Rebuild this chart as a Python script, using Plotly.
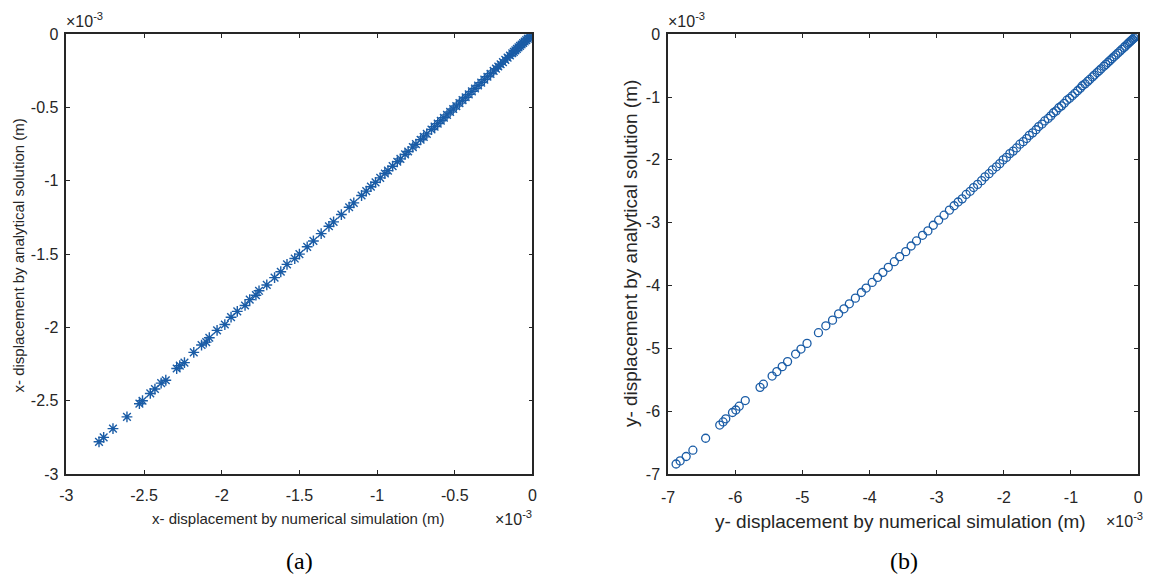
import plotly.graph_objects as go

# values in units of 1e-3 m
x_num_a = [-2.79, -2.76, -2.70, -2.61, -2.53, -2.51, -2.46, -2.43, -2.39, -2.36,
           -2.29, -2.27, -2.24, -2.18, -2.13, -2.10, -2.08, -2.03, -1.98, -1.94,
           -1.90, -1.85, -1.82, -1.78, -1.76, -1.71, -1.66, -1.62, -1.58, -1.53,
           -1.50, -1.45, -1.41, -1.36, -1.31, -1.28, -1.23, -1.18, -1.15, -1.10,
           -1.07, -1.04, -1.01, -0.98, -0.95, -0.93, -0.90, -0.87, -0.85, -0.82,
           -0.80, -0.77, -0.75, -0.72, -0.70, -0.68, -0.65, -0.63, -0.61, -0.59,
           -0.57, -0.55, -0.53, -0.51, -0.49, -0.47, -0.45, -0.43, -0.41, -0.39,
           -0.37, -0.35, -0.33, -0.31, -0.29, -0.27, -0.25, -0.235, -0.22, -0.205,
           -0.19, -0.175, -0.16, -0.145, -0.13, -0.12, -0.11, -0.10, -0.09, -0.08,
           -0.07, -0.06, -0.05, -0.04, -0.03, -0.02, -0.01, 0.0]
x_ana_a = [-2.78, -2.75, -2.69, -2.61, -2.52, -2.50, -2.45, -2.42, -2.38, -2.36,
           -2.28, -2.26, -2.24, -2.17, -2.12, -2.10, -2.07, -2.02, -1.98, -1.93,
           -1.89, -1.85, -1.81, -1.78, -1.75, -1.71, -1.66, -1.62, -1.57, -1.53,
           -1.50, -1.45, -1.41, -1.36, -1.31, -1.28, -1.23, -1.18, -1.15, -1.10,
           -1.07, -1.04, -1.01, -0.98, -0.95, -0.93, -0.90, -0.87, -0.85, -0.82,
           -0.80, -0.77, -0.75, -0.72, -0.70, -0.68, -0.65, -0.63, -0.61, -0.59,
           -0.57, -0.55, -0.53, -0.51, -0.49, -0.47, -0.45, -0.43, -0.41, -0.39,
           -0.37, -0.35, -0.33, -0.31, -0.29, -0.27, -0.25, -0.235, -0.22, -0.205,
           -0.19, -0.175, -0.16, -0.145, -0.13, -0.12, -0.11, -0.10, -0.09, -0.08,
           -0.07, -0.06, -0.05, -0.04, -0.03, -0.02, -0.01, 0.0]

y_num_b = [-6.88, -6.82, -6.73, -6.63, -6.44, -6.23, -6.18, -6.14, -6.04, -5.99,
           -5.94, -5.85, -5.63, -5.58, -5.45, -5.38, -5.30, -5.22, -5.10, -5.02,
           -4.93, -4.76, -4.65, -4.55, -4.46, -4.38, -4.30, -4.21, -4.12, -4.05,
           -3.96, -3.88, -3.80, -3.72, -3.63, -3.55, -3.46, -3.38, -3.30, -3.21,
           -3.13, -3.05, -2.97, -2.89, -2.81, -2.74, -2.68, -2.62, -2.56, -2.50,
           -2.45, -2.39, -2.33, -2.28, -2.22, -2.17, -2.11, -2.06, -2.01, -1.96,
           -1.91, -1.86, -1.81, -1.76, -1.71, -1.66, -1.62, -1.57, -1.52, -1.48,
           -1.43, -1.39, -1.34, -1.30, -1.26, -1.22, -1.18, -1.14, -1.10, -1.06,
           -1.02, -0.98, -0.94, -0.90, -0.86, -0.83, -0.79, -0.75, -0.72, -0.68,
           -0.65, -0.61, -0.58, -0.55, -0.51, -0.48, -0.45, -0.42, -0.39, -0.36,
           -0.33, -0.30, -0.27, -0.24, -0.21, -0.19, -0.16, -0.14, -0.12, -0.10,
           -0.08, -0.06, -0.04, -0.02, 0.0]
y_ana_b = [-6.84, -6.79, -6.72, -6.62, -6.43, -6.22, -6.17, -6.12, -6.02, -5.98,
           -5.92, -5.83, -5.62, -5.57, -5.44, -5.37, -5.29, -5.21, -5.09, -5.01,
           -4.92, -4.75, -4.64, -4.55, -4.45, -4.37, -4.29, -4.20, -4.11, -4.04,
           -3.95, -3.87, -3.79, -3.71, -3.62, -3.54, -3.46, -3.37, -3.29, -3.20,
           -3.13, -3.04, -2.96, -2.88, -2.80, -2.73, -2.67, -2.62, -2.55, -2.50,
           -2.44, -2.39, -2.33, -2.27, -2.22, -2.16, -2.11, -2.06, -2.00, -1.96,
           -1.90, -1.86, -1.81, -1.75, -1.71, -1.66, -1.61, -1.57, -1.52, -1.47,
           -1.43, -1.38, -1.34, -1.30, -1.25, -1.22, -1.17, -1.14, -1.10, -1.05,
           -1.02, -0.98, -0.94, -0.90, -0.86, -0.82, -0.79, -0.75, -0.72, -0.68,
           -0.65, -0.61, -0.58, -0.55, -0.51, -0.48, -0.45, -0.42, -0.39, -0.36,
           -0.33, -0.30, -0.27, -0.24, -0.21, -0.19, -0.16, -0.14, -0.12, -0.10,
           -0.08, -0.06, -0.04, -0.02, 0.0]

ticks_a = [-3, -2.5, -2, -1.5, -1, -0.5, 0]
ticklabels_a = ["-3", "-2.5", "-2", "-1.5", "-1", "-0.5", "0"]
ticks_b = [-7, -6, -5, -4, -3, -2, -1, 0]
ticklabels_b = ["-7", "-6", "-5", "-4", "-3", "-2", "-1", "0"]

W, H = 1151, 586
DARK = "#1a5ca6"
AX = "#262626"
FONT = "Arial"

def px(x):
    return x / W

def py(y):
    return 1 - y / H

fig = go.Figure()
fig.add_trace(go.Scatter(x=x_num_a, y=x_ana_a, mode="markers", xaxis="x", yaxis="y",
                         marker=dict(symbol="asterisk-open", size=9, color=DARK,
                                     line=dict(color=DARK, width=1.4)),
                         showlegend=False))
fig.add_trace(go.Scatter(x=y_num_b, y=y_ana_b, mode="markers", xaxis="x2", yaxis="y2",
                         marker=dict(symbol="circle-open", size=8, color=DARK,
                                     line=dict(color=DARK, width=1.3)),
                         showlegend=False))

common = dict(showline=True, linecolor=AX, linewidth=1.5, mirror="ticks",
              ticks="inside", ticklen=4, tickcolor=AX, tickwidth=1,
              showgrid=False, zeroline=False,
              tickfont=dict(family=FONT, size=16, color=AX))

fig.update_layout(
    width=W, height=H,
    margin=dict(l=0, r=0, t=0, b=0),
    paper_bgcolor="white", plot_bgcolor="white",
    font=dict(family=FONT),
    xaxis=dict(domain=[px(60), px(531)], range=[-3, 0], tickvals=ticks_a,
               ticktext=ticklabels_a, anchor="y", ticklabelstandoff=6, **common),
    yaxis=dict(domain=[py(480), py(27)], range=[-3, 0], tickvals=ticks_a,
               ticktext=ticklabels_a, anchor="x", ticklabelstandoff=3, **common),
    xaxis2=dict(domain=[px(668), px(1143)], range=[-7, 0], tickvals=ticks_b,
                ticktext=ticklabels_b, anchor="y2", ticklabelstandoff=8, **common),
    yaxis2=dict(domain=[py(480), py(27)], range=[-7, 0], tickvals=ticks_b,
                ticktext=ticklabels_b, anchor="x2", ticklabelstandoff=3, **common),
)

def ann(text, x, y, xanchor="center", yanchor="middle", size=14, angle=0, family=FONT, color=AX):
    fig.add_annotation(text=text, x=px(x), y=py(y), xref="paper", yref="paper",
                       xanchor=xanchor, yanchor=yanchor, showarrow=False,
                       textangle=angle, font=dict(family=family, size=size, color=color))

# exponent labels
ann("×10<sup>-3</sup>", 58, 25, xanchor="left", yanchor="bottom", size=16)
ann("×10<sup>-3</sup>", 533, 525, xanchor="right", size=16)
ann("×10<sup>-3</sup>", 666, 25, xanchor="left", yanchor="bottom", size=16)
ann("×10<sup>-3</sup>", 1150, 527, xanchor="right", size=16)

# axis titles
ann("x- displacement by numerical simulation (m)", 295, 526, size=15)
ann("x- displacement by analytical solution (m)", 12, 255, size=15, angle=-90)
ann("y- displacement by numerical simulation (m)", 903, 529, size=19)
ann("y- displacement by analytical solution (m)", 630, 253, size=19, angle=-90)

# captions
ann("(a)", 296, 570, size=24, family="Liberation Serif", color="black")
ann("(b)", 906, 570, size=24, family="Liberation Serif", color="black")

fig.write_html("out.html")
